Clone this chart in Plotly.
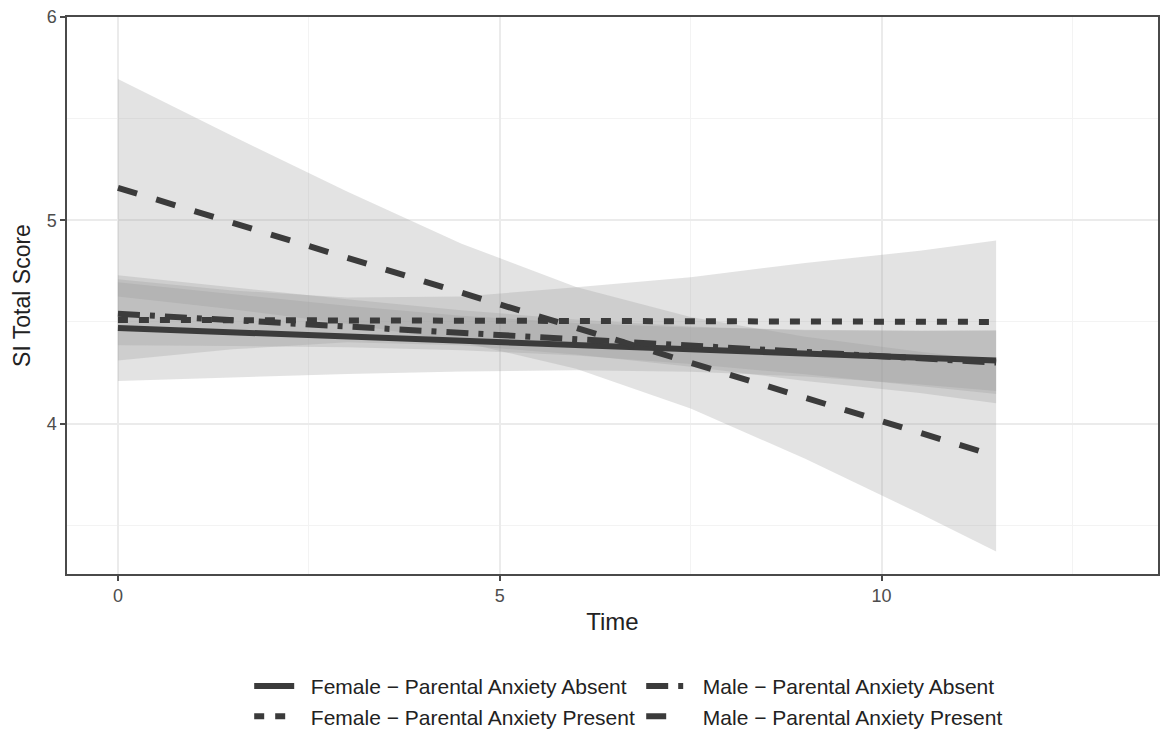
import plotly.graph_objects as go

# ---- data ----
time_pts = [0, 1.5, 3, 4.5, 6, 7.5, 9, 10.5, 11.5]
line_ends = [0, 11.5]

groups = [
    "Female \u2212 Parental Anxiety Absent",
    "Male \u2212 Parental Anxiety Absent",
    "Female \u2212 Parental Anxiety Present",
    "Male \u2212 Parental Anxiety Present",
]

# fitted lines (value at Time = 0 and Time = 11.5)
fa_line = [4.47, 4.31]
ma_line = [4.54, 4.30]
fp_line = [4.51, 4.50]
mp_line = [5.16, 3.84]

# confidence ribbons at time_pts
fa_lower = [4.21, 4.228, 4.244, 4.256, 4.262, 4.255, 4.231, 4.192, 4.16]
fa_upper = [4.73, 4.67, 4.612, 4.558, 4.512, 4.477, 4.459, 4.456, 4.46]
ma_lower = [4.385, 4.382, 4.375, 4.361, 4.335, 4.293, 4.242, 4.185, 4.145]
ma_upper = [4.695, 4.636, 4.579, 4.531, 4.495, 4.473, 4.462, 4.457, 4.455]
fp_lower = [4.31, 4.365, 4.40, 4.385, 4.34, 4.28, 4.21, 4.15, 4.10]
fp_upper = [4.71, 4.655, 4.62, 4.625, 4.67, 4.72, 4.79, 4.85, 4.90]
mp_lower = [4.625, 4.562, 4.491, 4.401, 4.270, 4.074, 3.827, 3.557, 3.371]
mp_upper = [5.695, 5.414, 5.141, 4.885, 4.672, 4.524, 4.427, 4.353, 4.309]

x_ticks = [0, 5, 10]
y_ticks = [4, 5, 6]

# ---- styling ----
line_color = "#3b3b3b"
ribbon_fill = "rgba(153,153,153,0.27)"
dashes = ["solid", "22px,10px,5px,10px", "10px,11px", "20px,20px"]
lines = [fa_line, ma_line, fp_line, mp_line]
lowers = [fa_lower, ma_lower, fp_lower, mp_lower]
uppers = [fa_upper, ma_upper, fp_upper, mp_upper]

fig = go.Figure()

for lo, up in zip(lowers, uppers):
    fig.add_trace(go.Scatter(
        x=time_pts + time_pts[::-1],
        y=up + lo[::-1],
        fill="toself",
        fillcolor=ribbon_fill,
        line=dict(width=0),
        mode="lines",
        showlegend=False,
        hoverinfo="skip",
    ))

for name, vals, dash in zip(groups, lines, dashes):
    fig.add_trace(go.Scatter(
        x=line_ends,
        y=vals,
        mode="lines",
        name="\u00a0\u00a0" + name,
        line=dict(color=line_color, width=6, dash=dash),
    ))

font_family = "Liberation Sans, Arial, sans-serif"

fig.update_layout(
    width=1162,
    height=739,
    margin=dict(l=67, r=2, t=17, b=163),
    paper_bgcolor="white",
    plot_bgcolor="white",
    font=dict(family=font_family, color="#222222"),
    showlegend=True,
    legend=dict(
        orientation="h",
        x=0.167, xanchor="left",
        y=-0.165, yanchor="top",
        entrywidth=337,
        font=dict(size=21, color="#222222"),
        bgcolor="rgba(0,0,0,0)",
        itemwidth=40,
    ),
    xaxis=dict(
        range=[-0.667, 13.62],
        tickvals=x_ticks,
        ticktext=[str(v) for v in x_ticks],
        showgrid=True,
        gridcolor="#ebebeb",
        gridwidth=1.6,
        minor=dict(tickvals=[2.5, 7.5, 12.5], showgrid=True,
                   gridcolor="#f3f3f3", gridwidth=1, ticklen=0),
        zeroline=False,
        showline=True, linecolor="#4a4a4a", linewidth=1.5, mirror=True,
        ticks="outside", ticklen=5, tickwidth=1.5, tickcolor="#4a4a4a",
        tickfont=dict(size=18, color="#4d4d4d"),
        title=dict(text="Time", font=dict(size=24, color="#222222"), standoff=8),
    ),
    yaxis=dict(
        range=[3.26, 6.0],
        tickvals=y_ticks,
        ticktext=[str(v) for v in y_ticks],
        showgrid=True,
        gridcolor="#ebebeb",
        gridwidth=1.6,
        minor=dict(tickvals=[3.5, 4.5, 5.5], showgrid=True,
                   gridcolor="#f3f3f3", gridwidth=1, ticklen=0),
        zeroline=False,
        showline=True, linecolor="#4a4a4a", linewidth=1.5, mirror=True,
        ticks="outside", ticklen=5, tickwidth=1.5, tickcolor="#4a4a4a",
        tickfont=dict(size=18, color="#4d4d4d"),
        title=dict(text="SI Total Score", font=dict(size=23, color="#222222"), standoff=10),
    ),
)

fig.write_html("out.html")
